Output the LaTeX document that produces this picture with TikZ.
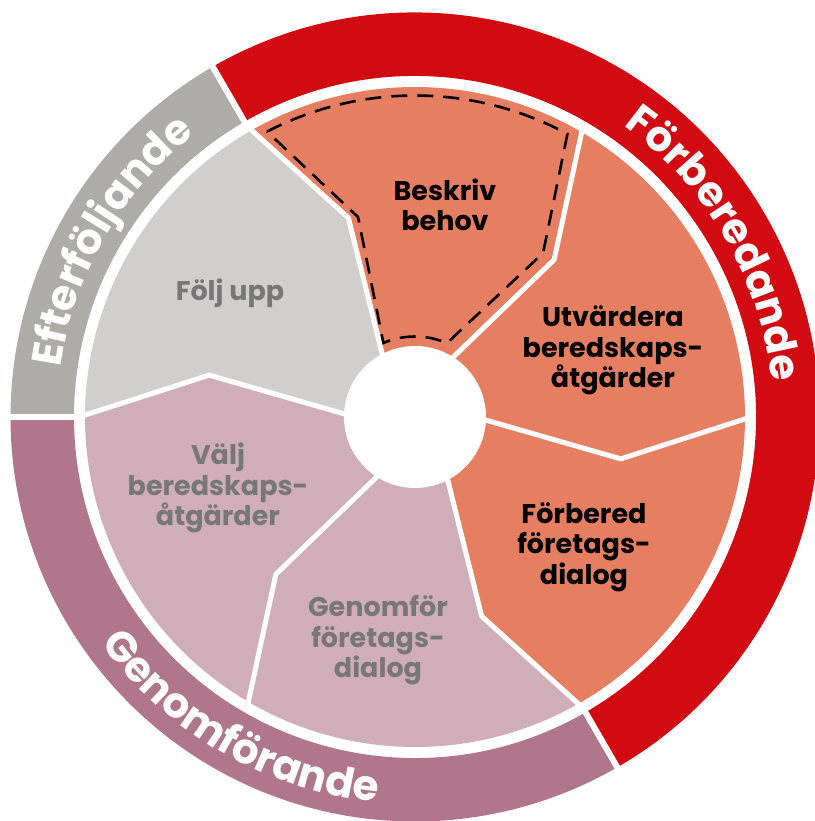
\documentclass[tikz,border=0pt]{standalone}
\usepackage{fontspec}
\setmainfont{Poppins}
\usetikzlibrary{decorations.text}
\definecolor{ringred}{HTML}{D20A11}
\definecolor{ringgray}{HTML}{ADACA7}
\definecolor{ringmauve}{HTML}{B0768C}
\definecolor{segorange}{HTML}{E67F61}
\definecolor{seggray}{HTML}{D0CFCB}
\definecolor{segmauve}{HTML}{CFADB9}
\definecolor{txtgray}{HTML}{777777}
\newcommand\ringfont{\fontsize{42}{44}\selectfont\bfseries\color{white}}
\newcommand\segfill[2]{%
  \fill[#2] (0,0) -- ({#1}:65) -- ({#1-11.5}:210) -- ({#1}:330)
    arc[start angle=#1, end angle=#1+60, radius=330]
    -- ({#1+48.5}:210) -- ({#1+60}:65) -- cycle;}
\begin{document}
\begin{tikzpicture}[x=1pt,y=1pt,
  segtext/.style={align=center, inner sep=0pt, font=\fontsize{27}{30.5}\selectfont\bfseries},
  darktext/.style={segtext, text=black},
  lighttext/.style={segtext, text=txtgray},
  sepline/.style={white, line width=5pt, line join=round},
  ringsep/.style={white, line width=6pt},
  dashbox/.style={black, line width=2.6pt, dash pattern=on 16pt off 10pt, line join=miter}]
\useasboundingbox (-415,-404) rectangle (399,417);
% outer ring
\fill[ringred] (120:404.5) arc[start angle=120, end angle=-60, radius=404.5]
  -- (-60:341) arc[start angle=-60, end angle=120, radius=341] -- cycle;
\fill[ringgray] (180:404.5) arc[start angle=180, end angle=120, radius=404.5]
  -- (120:341) arc[start angle=120, end angle=180, radius=341] -- cycle;
\fill[ringmauve] (180:404.5) arc[start angle=180, end angle=300, radius=404.5]
  -- (300:341) arc[start angle=300, end angle=180, radius=341] -- cycle;
\foreach \a in {120,180,300} \draw[ringsep] (\a:335) -- (\a:412);
% segments
\segfill{0}{segorange}
\segfill{60}{segorange}
\segfill{120}{seggray}
\segfill{180}{segmauve}
\segfill{240}{segmauve}
\segfill{300}{segorange}
\foreach \b in {0,60,120,180,240,300}
  \draw[sepline] ({\b}:60) -- ({\b-11.5}:210) -- ({\b}:336);
\fill[white] (0,0) circle (71);
\coordinate (hub) at (0,0);
% dashed outline
\draw[dashbox] (117.4:321.5) arc[start angle=117.4, end angle=61.7, radius=321.5]
  -- (52:208) -- (66.6:80.5) arc[start angle=66.6, end angle=113.1, radius=80.5]
  -- (105.9:208) -- cycle;
% segment texts
\node[darktext] (beskriv) at (30,212) {Beskriv\\behov};
\node[darktext] (utvardera) at (198,66.5) {Utvärdera\\beredskaps-\\åtgärder};
\node[darktext] (forbered) at (169,-130) {Förbered\\företags-\\dialog};
\node[lighttext] (genomfor) at (-37,-223.5) {Genomför\\företags-\\dialog};
\node[lighttext] (valj) at (-197,-71) {Välj\\beredskaps-\\åtgärder};
\node[lighttext] (foljupp) at (-185,123.5) {Följ upp};
% ring texts
\path[decorate, decoration={text along path, text align=center,
  text={|\ringfont|Förberedande}}]
  (65:358) arc[start angle=65, end angle=-5, radius=358];
\path[decorate, decoration={text along path, text align=center,
  text={|\ringfont|Efterföljande}}]
  (185:358) arc[start angle=185, end angle=115, radius=358];
\path[decorate, decoration={text along path, text align=center,
  text={|\ringfont|Genomförande}}]
  (195:387) arc[start angle=195, end angle=285, radius=387];
\end{tikzpicture}
\end{document}
